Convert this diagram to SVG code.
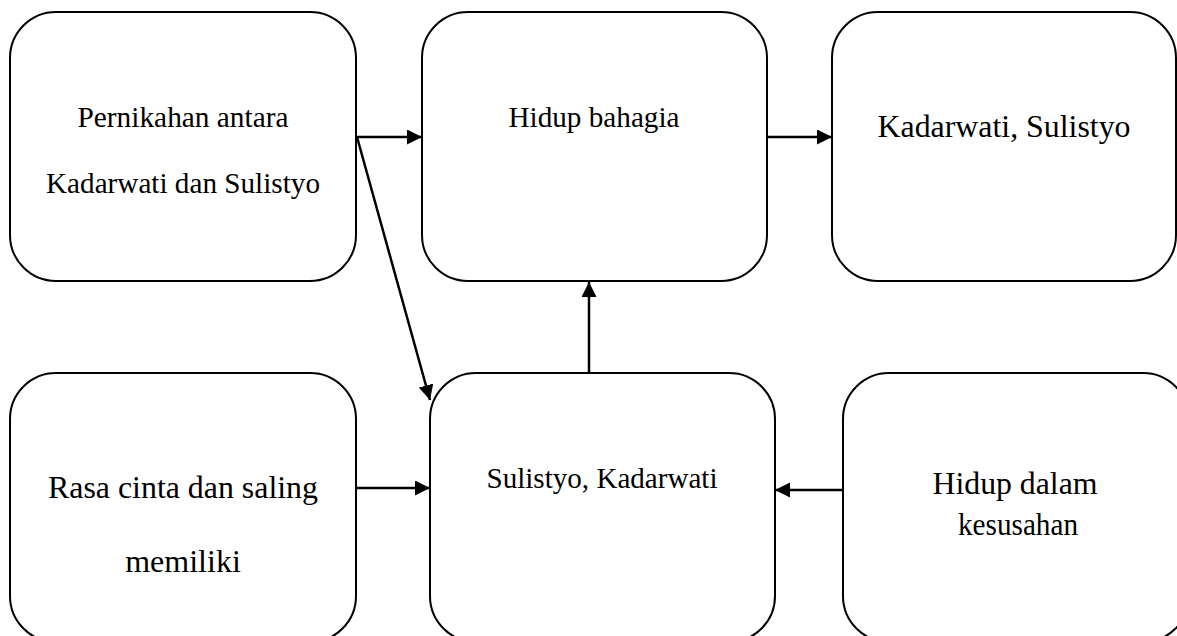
<svg xmlns="http://www.w3.org/2000/svg" width="1177" height="636" viewBox="0 0 1177 636">
  <style>
    .box { fill: #ffffff; stroke: #000000; stroke-width: 2; }
    .lbl { fill: #000000; text-anchor: middle; }
    .sm { font-size: 29px; }
    .lg { font-size: 32px; }
    .edge { stroke: #000000; stroke-width: 2.5; fill: none; marker-end: url(#head); }
  </style>
  <defs>
    <marker id="head" markerUnits="userSpaceOnUse" markerWidth="16" markerHeight="16" refX="15" refY="7.5" orient="auto">
      <path d="M0,0 L15,7.5 L0,15 z" fill="#000000"/>
    </marker>
  </defs>
  <rect width="1177" height="636" fill="#ffffff"/>

  <g font-family="'Liberation Serif', 'Times New Roman', Times, 'DejaVu Serif', serif">
    <g id="node-pernikahan">
      <rect class="box" x="10" y="12" width="346" height="269" rx="46" ry="46"/>
      <text class="lbl sm" x="183" y="127" textLength="211" lengthAdjust="spacingAndGlyphs">Pernikahan antara</text>
      <text class="lbl sm" x="183" y="193" textLength="274" lengthAdjust="spacingAndGlyphs">Kadarwati dan Sulistyo</text>
    </g>

    <g id="node-hidup-bahagia">
      <rect class="box" x="422" y="12" width="345" height="269" rx="46" ry="46"/>
      <text class="lbl sm" x="594" y="127" textLength="171" lengthAdjust="spacingAndGlyphs">Hidup bahagia</text>
    </g>

    <g id="node-kadarwati-sulistyo">
      <rect class="box" x="832" y="12" width="344" height="269" rx="46" ry="46"/>
      <text class="lbl lg" x="1004" y="137" textLength="253" lengthAdjust="spacingAndGlyphs">Kadarwati, Sulistyo</text>
    </g>

    <g id="node-rasa-cinta">
      <rect class="box" x="10" y="373" width="346" height="269" rx="46" ry="46"/>
      <text class="lbl lg" x="183" y="498" textLength="270" lengthAdjust="spacingAndGlyphs">Rasa cinta dan saling</text>
      <text class="lbl lg" x="183" y="572">memiliki</text>
    </g>

    <g id="node-sulistyo-kadarwati">
      <rect class="box" x="430" y="373" width="345" height="269" rx="46" ry="46"/>
      <text class="lbl sm" x="602" y="488" textLength="231" lengthAdjust="spacingAndGlyphs">Sulistyo, Kadarwati</text>
    </g>

    <g id="node-kesusahan">
      <rect class="box" x="843" y="373" width="346" height="269" rx="46" ry="46"/>
      <text class="lbl lg" x="1015" y="494" textLength="165" lengthAdjust="spacingAndGlyphs">Hidup dalam</text>
      <text class="lbl lg" x="1018" y="535" textLength="120" lengthAdjust="spacingAndGlyphs">kesusahan</text>
    </g>
  </g>

  <g id="connectors">
    <line class="edge" x1="356" y1="137" x2="422" y2="137"/>
    <line class="edge" x1="357" y1="137" x2="430" y2="400"/>
    <line class="edge" x1="589" y1="373" x2="589" y2="282"/>
    <line class="edge" x1="767" y1="137" x2="832" y2="137"/>
    <line class="edge" x1="843" y1="490" x2="775" y2="490"/>
    <line class="edge" x1="356" y1="488" x2="430" y2="488"/>
  </g>
</svg>
